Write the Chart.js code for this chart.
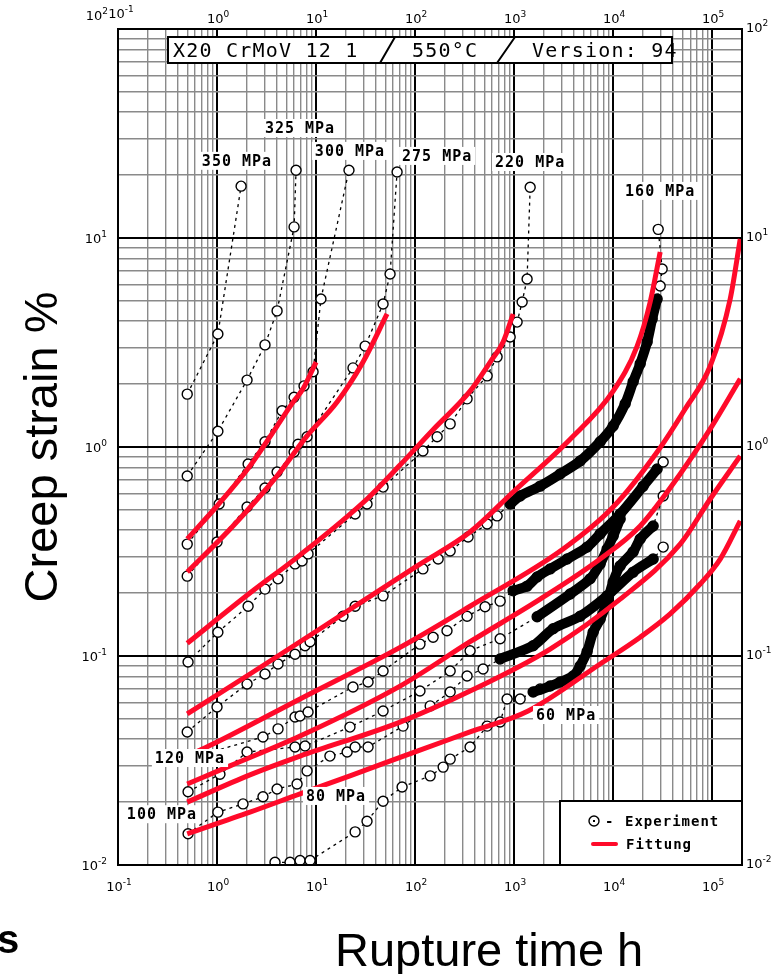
<!DOCTYPE html>
<html>
<head>
<meta charset="utf-8">
<script src="https://cdn.jsdelivr.net/npm/chart.js@4.4.1/dist/chart.umd.min.js"></script>
<style>
  html, body { margin: 0; padding: 0; background: #fff; }
  canvas { display: block; }
</style>
</head>
<body>
<canvas id="grafico" width="780" height="974"></canvas>
<script>
// X20 CrMoV 12 1 at 550°C, creep strain vs time
// every point is [time h, strain %]

const xDecades = [-1, 0, 1, 2, 3, 4, 5];
const yDecades = [-2, -1, 0, 1, 2];
const xMin = 0.1, xMax = 2e5, yMin = 0.01, yMax = 100;

// fitted curves (red)
const fit300 = [[0.5,0.363],[1.0,0.522],[2.15,0.811],[4.04,1.26],[5.86,1.64],[7.39,1.90],[10,2.55]];
const fit275 = [[0.5,0.252],[1.42,0.414],[4.04,0.727],[8.11,1.13],[16.3,1.64],[29.8,2.55],[52.1,4.33]];
const fit220 = [[0.5,0.115],[2.15,0.200],[6.89,0.304],[32.7,0.564],[70.5,0.820],[152,1.21],[359,1.85],[573,2.55],[774,3.18],[977,4.33]];
const fit160 = [[0.5,0.0528],[2.15,0.082],[11,0.135],[105,0.270],[359,0.392],[977,0.609],[3680,1.09],[10000,1.85],[17470,3.04],[23650,4.94],[29850,8.57]];
const fit120 = [[0.5,0.0332],[0.91,0.0379],[6.89,0.0623],[70.5,0.110],[359,0.173],[3126,0.325],[10000,0.516],[27800,0.946],[53300,1.52],[95500,2.44],[152000,5.11],[192000,9.9]];
const fit100 = [[0.5,0.0244],[1.35,0.0298],[6.89,0.0414],[70.5,0.0718],[359,0.117],[1832,0.187],[7390,0.291],[18750,0.419],[47500,0.743],[95500,1.22],[192000,2.12]];
const fit80 = [[0.5,0.0200],[2.15,0.0270],[6.89,0.0332],[70.5,0.0483],[359,0.0680],[2310,0.108],[11770,0.187],[47500,0.343],[95500,0.564],[192000,0.906]];
const fit60 = [[0.5,0.0141],[2.15,0.0179],[6.89,0.0219],[22,0.0267],[105,0.0351],[359,0.0433],[1385,0.0546],[7390,0.0916],[18750,0.123],[37650,0.159],[75600,0.221],[120500,0.291],[192000,0.443]];

// experiment (circles, dashed)
const exp350 = [[0.5,1.79],[1.02,3.47],[1.75,17.7]];
const exp325 = [[0.5,0.727],[1.02,1.19],[2.01,2.09],[3.05,3.08],[4.04,4.48],[6.0,11.3],[6.28,21.1]];
const exp300 = [[0.5,0.343],[1.05,0.534],[2.06,0.829],[3.05,1.06],[4.54,1.49],[6.0,1.73],[7.56,1.96],[9.33,2.29],[11.2,5.11],[21.5,21.1]];
const exp275 = [[0.5,0.241],[1.0,0.351],[2.01,0.516],[3.05,0.637],[4.04,0.759],[6.0,0.946],[6.58,1.03],[8.11,1.12],[23.6,2.39],[31.3,3.04],[47.5,4.83],[55.9,6.73],[65.8,20.7]];
const exp220 = [[0.51,0.0936],[1.02,0.130],[2.06,0.173],[3.05,0.209],[4.13,0.234],[6.13,0.276],[7.22,0.285],[8.30,0.308],[24.8,0.478],[32.7,0.534],[47.5,0.643],[120,0.957],[167,1.12],[226,1.29],[335,1.70],[534,2.19],[673,2.70],[912,3.36],[1072,3.96],[1205,4.94],[1352,6.37],[1452,17.5]];
const exp160 = [[0.5,0.0433],[1.0,0.0570],[2.01,0.0734],[3.05,0.0820],[4.13,0.0916],[6.13,0.102],[7.74,0.112],[8.70,0.117],[18.7,0.155],[24.8,0.173],[47.5,0.194],[120,0.261],[171,0.291],[226,0.318],[343,0.371],[534,0.428],[673,0.468],[912,0.534],[1150,0.583],[1832,0.650],[2916,0.743],[4641,0.857],[7390,1.06],[10000,1.26],[13220,1.61],[15920,2.05],[18750,2.50],[22030,3.18],[24770,4.10],[27800,5.11],[29850,5.89],[31250,7.11],[28500,11.0]];
const exp120 = [[0.5,0.0321],[2.91,0.0410],[4.13,0.0448],[6.13,0.0511],[6.89,0.0516],[8.30,0.0540],[23.6,0.0711],[33.5,0.0751],[47.5,0.0848],[112,0.114],[152,0.123],[210,0.132],[335,0.155],[509,0.172],[722,0.183],[977,0.205],[1352,0.216],[1708,0.239],[2310,0.261],[3428,0.291],[5462,0.332],[7390,0.384],[11770,0.478],[20100,0.650],[27800,0.785],[32000,0.848]];
const exp100 = [[0.51,0.0224],[1.07,0.0272],[2.01,0.0347],[6.13,0.0367],[7.74,0.0371],[22,0.0457],[47.5,0.0546],[112,0.0680],[226,0.0848],[359,0.106],[722,0.121],[1708,0.154],[3680,0.198],[5858,0.234],[7390,0.276],[8690,0.325],[10000,0.375],[11770,0.453]];
const exp80 = [[0.51,0.0141],[1.02,0.0179],[1.83,0.0196],[2.91,0.0212],[4.04,0.0231],[6.43,0.0244],[8.11,0.0282],[13.8,0.0332],[20.6,0.0347],[24.8,0.0367],[33.5,0.0367],[75.6,0.0462],[142,0.0577],[226,0.0673],[335,0.0802],[486,0.0867],[722,0.0968],[1556,0.112],[2478,0.135],[4641,0.155],[8690,0.194],[15920,0.252],[25350,0.291],[32000,0.332]];
const exp60 = [[3.85,0.0103],[5.46,0.0103],[6.89,0.0105],[8.70,0.0105],[24.8,0.0144],[32.7,0.0162],[47.5,0.0202],[73.9,0.0236],[142,0.0267],[192,0.0294],[226,0.0321],[359,0.0367],[534,0.0462],[722,0.0483],[849,0.0623],[1150,0.0623],[1556,0.0673],[1832,0.0695],[2310,0.0718],[2916,0.0751],[3945,0.0802],[4641,0.0896],[5462,0.105],[6280,0.130],[7390,0.150],[8690,0.181],[10000,0.226],[11770,0.270],[15920,0.315],[18750,0.363],[25350,0.419],[32000,0.583]];

// dense stretches where the circles merge into a black band
const band160 = [[912,0.534],[1150,0.583],[1832,0.650],[2916,0.743],[4641,0.857],[7390,1.06],[10000,1.26],[13220,1.61],[15920,2.05],[18750,2.50],[22030,3.18],[24770,4.10],[27800,5.11]];
const band120 = [[977,0.205],[1352,0.216],[1708,0.239],[2310,0.261],[3428,0.291],[5462,0.332],[7390,0.384],[11770,0.478],[20100,0.650],[27800,0.785]];
const band100 = [[1708,0.154],[3680,0.198],[5858,0.234],[7390,0.276],[8690,0.325],[10000,0.375],[11770,0.453]];
const band80 = [[722,0.0968],[1556,0.112],[2478,0.135],[4641,0.155],[8690,0.194],[15920,0.252],[25350,0.291]];
const band60 = [[1556,0.0673],[2310,0.0718],[3945,0.0802],[4641,0.0896],[5462,0.105],[6280,0.130],[7390,0.150],[8690,0.181],[10000,0.226],[11770,0.270],[15920,0.315],[18750,0.363],[25350,0.419]];

const stressLabels = ['350 MPa','325 MPa','300 MPa','275 MPa','220 MPa','160 MPa','120 MPa','100 MPa','80 MPa','60 MPa'];
const stressLabelAt = [[1.59,23.4],[6.89,33.6],[22.0,26.1],[167,24.7],[1452,23.1],[29850,16.8],[0.533,0.0325],[0.278,0.0175],[15.9,0.0214],[3350,0.0522]];

const fits = [fit300, fit275, fit220, fit160, fit120, fit100, fit80, fit60];
const experiments = [exp350, exp325, exp300, exp275, exp220, exp160, exp120, exp100, exp80, exp60];
const bands = [band160, band120, band100, band80, band60];

const RED = '#ff0a2a';
const PIX = '"DejaVu Sans Mono", monospace';

const pts = arr => arr.map(([x, y]) => ({ x, y }));

const gridTicks = (decades, max) => {
  const ticks = [];
  decades.forEach(d => {
    for (let k = 1; k <= 9; k++) {
      const v = k * Math.pow(10, d);
      if (v <= max * 1.0001) ticks.push({ value: v, major: k === 1 });
    }
  });
  return ticks;
};

const gridOpts = {
  color: c => (c.tick && c.tick.major) ? '#000' : '#8a8a8a',
  lineWidth: c => (c.tick && c.tick.major) ? 2 : 1.4,
  drawTicks: false
};

// "10" with the exponent raised
const powLabel = (ctx, x, y, exp, align) => {
  const sup = exp < 0 ? '-' + (-exp) : String(exp);
  ctx.font = '13px "DejaVu Sans"';
  const wb = ctx.measureText('10').width;
  ctx.font = '9px "DejaVu Sans"';
  const ws = ctx.measureText(sup).width;
  let left = x;
  if (align === 'center') left = x - (wb + ws) / 2;
  if (align === 'right') left = x - wb - ws;
  ctx.textAlign = 'left';
  ctx.font = '13px "DejaVu Sans"';
  ctx.fillText('10', left, y);
  ctx.font = '9px "DejaVu Sans"';
  ctx.fillText(sup, left + wb, y - 6);
};

const overlay = {
  id: 'overlay',
  beforeDraw(chart) {
    const ctx = chart.ctx;
    ctx.save();
    ctx.fillStyle = '#fff';
    ctx.fillRect(0, 0, chart.width, chart.height);
    ctx.restore();
  },
  afterDatasetsDraw(chart) {
    const ctx = chart.ctx;
    const ca = chart.chartArea;
    const xs = chart.scales.x, ys = chart.scales.y;
    ctx.save();

    // frame
    ctx.strokeStyle = '#000';
    ctx.lineWidth = 2;
    ctx.strokeRect(ca.left, ca.top, ca.right - ca.left, ca.bottom - ca.top);

    // title box
    const tTop = ca.top + 8, tH = 26;
    ctx.fillStyle = '#fff';
    ctx.fillRect(168, tTop, 504, tH);
    ctx.strokeRect(168, tTop, 504, tH);
    ctx.fillStyle = '#000';
    ctx.font = '20px ' + PIX;
    ctx.letterSpacing = '1.2px';
    ctx.textBaseline = 'alphabetic';
    ctx.fillText('X20 CrMoV 12 1', 173, tTop + 20);
    ctx.fillText('550°C', 412, tTop + 20);
    ctx.fillText('Version: 94', 532, tTop + 20);
    ctx.beginPath();
    ctx.moveTo(380, tTop + tH); ctx.lineTo(395, tTop);
    ctx.moveTo(497, tTop + tH); ctx.lineTo(515, tTop);
    ctx.stroke();

    // stress labels on white patches
    ctx.font = 'bold 15px ' + PIX;
    ctx.letterSpacing = '1px';
    ctx.textBaseline = 'middle';
    ctx.textAlign = 'center';
    stressLabels.forEach((txt, i) => {
      const px = xs.getPixelForValue(stressLabelAt[i][0]);
      const py = ys.getPixelForValue(stressLabelAt[i][1]);
      const w = ctx.measureText(txt).width + 6;
      ctx.fillStyle = '#fff';
      ctx.fillRect(px - w / 2, py - 9, w, 18);
      ctx.fillStyle = '#000';
      ctx.fillText(txt, px, py + 1);
    });

    // legend box
    const lx = ca.right - 182, ly = ca.bottom - 64;
    ctx.fillStyle = '#fff';
    ctx.fillRect(lx, ly, 182, 64);
    ctx.lineWidth = 2;
    ctx.strokeRect(lx, ly, 182, 64);
    ctx.textAlign = 'left';
    ctx.fillStyle = '#000';
    ctx.lineWidth = 1.4;
    ctx.beginPath();
    ctx.arc(lx + 34, ly + 20, 5, 0, Math.PI * 2);
    ctx.stroke();
    ctx.fillRect(lx + 33, ly + 19, 2, 2);
    ctx.font = 'bold 14px ' + PIX;
    ctx.fillText('-', lx + 45, ly + 21);
    ctx.fillText('Experiment', lx + 65, ly + 21);
    ctx.strokeStyle = RED;
    ctx.lineWidth = 4;
    ctx.lineCap = 'round';
    ctx.beginPath();
    ctx.moveTo(lx + 33, ly + 43); ctx.lineTo(lx + 56, ly + 43);
    ctx.stroke();
    ctx.fillText('Fittung', lx + 66, ly + 44);
    ctx.restore();
  },
  afterDraw(chart) {
    const ctx = chart.ctx;
    const ca = chart.chartArea;
    const xs = chart.scales.x, ys = chart.scales.y;
    ctx.save();
    ctx.fillStyle = '#000';
    ctx.textBaseline = 'alphabetic';

    xDecades.forEach(d => {
      const px = xs.getPixelForValue(Math.pow(10, d));
      powLabel(ctx, px + 1, ca.bottom + 26, d, 'center');
      if (d === -1) powLabel(ctx, px + 3, ca.top - 11, d, 'center');
      else powLabel(ctx, px + 1, ca.top - 6, d, 'center');
    });
    yDecades.forEach(d => {
      const py = ys.getPixelForValue(Math.pow(10, d));
      if (d === 2) powLabel(ctx, ca.left - 10, py - 9, d, 'right');
      else powLabel(ctx, ca.left - 11, py + 5, d, 'right');
      powLabel(ctx, ca.right + 4, py + 3, d, 'left');
    });

    // axis titles
    ctx.font = '47px "Liberation Sans", Arial, sans-serif';
    ctx.textAlign = 'left';
    ctx.fillText('Rupture time h', 335, 966);
    ctx.save();
    ctx.translate(57, 447);
    ctx.rotate(-Math.PI / 2);
    ctx.textAlign = 'center';
    ctx.fillText('Creep strain %', 0, 0);
    ctx.restore();

    ctx.font = 'bold 40px "Liberation Sans", Arial, sans-serif';
    ctx.fillText('s', -3, 953);
    ctx.restore();
  }
};

const datasets = [
  ...fits.map(f => ({
    data: pts(f),
    borderColor: RED,
    borderWidth: 5,
    pointRadius: 0,
    cubicInterpolationMode: 'monotone',
    order: 0
  })),
  ...bands.map(b => ({
    data: pts(b),
    borderColor: '#000',
    borderWidth: 10,
    pointRadius: 0,
    tension: 0.3,
    borderCapStyle: 'round',
    borderJoinStyle: 'round',
    order: 1
  })),
  ...experiments.map(e => ({
    data: pts(e),
    borderColor: '#000',
    borderWidth: 1.3,
    borderDash: [3, 4],
    pointRadius: 5,
    pointBorderWidth: 1.4,
    pointBorderColor: '#000',
    pointBackgroundColor: '#fff',
    order: 2
  }))
];

new Chart(document.getElementById('grafico').getContext('2d'), {
  type: 'line',
  data: { datasets },
  options: {
    responsive: false,
    devicePixelRatio: 1,
    animation: false,
    events: [],
    layout: { padding: { left: 118, right: 38, top: 29, bottom: 109 } },
    scales: {
      x: {
        type: 'logarithmic',
        min: xMin,
        max: xMax,
        afterBuildTicks: s => { s.ticks = gridTicks(xDecades, xMax); },
        ticks: { display: false },
        grid: gridOpts,
        border: { display: false }
      },
      y: {
        type: 'logarithmic',
        min: yMin,
        max: yMax,
        afterBuildTicks: s => { s.ticks = gridTicks(yDecades, yMax); },
        ticks: { display: false },
        grid: gridOpts,
        border: { display: false }
      }
    },
    plugins: {
      legend: { display: false },
      tooltip: { enabled: false }
    }
  },
  plugins: [overlay]
});
</script>
</body>
</html>
